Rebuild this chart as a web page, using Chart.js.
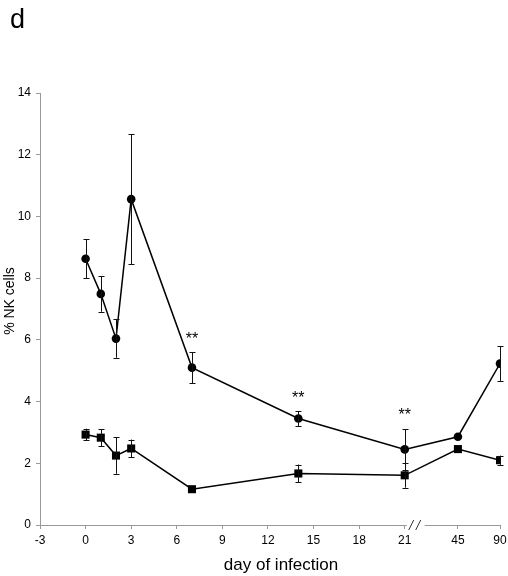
<!DOCTYPE html>
<html>
<head>
<meta charset="utf-8">
<script src="https://cdn.jsdelivr.net/npm/chart.js@4"></script>
<style>
  html, body { margin: 0; padding: 0; background: #fff; }
  #wrap { width: 508px; height: 576px; position: relative; }
</style>
</head>
<body>
<div id="wrap"><canvas id="c" width="508" height="576"></canvas></div>
<script>
// ---- data ----
const days = [0, 1, 2, 3, 7, 14, 21, 45, 90];
const groupCircle = [8.63, 7.49, 6.04, 10.56, 5.10, 3.45, 2.45, 2.86, 5.23];
const groupCircleErr = [0.63, 0.58, 0.62, 2.10, 0.50, 0.24, 0.66, 0, 0.56];
const groupSquare = [2.93, 2.83, 2.25, 2.48, 1.16, 1.67, 1.61, 2.46, 2.10];
const groupSquareErr = [0.19, 0.28, 0.59, 0.29, 0, 0.29, 0.40, 0, 0.15];
const starDays = [7, 14, 21];            // "**" marks on the circle series
const xTickDays = [-3, 0, 3, 6, 9, 12, 15, 18, 21, 45, 90];
const yTicks = [0, 2, 4, 6, 8, 10, 12, 14];
const xTitle = 'day of infection';
const yTitle = '% NK cells';
const panelLetter = 'd';

// broken axis: days after 21 are placed at compressed positions
const breakAfter = 21;
const brokenDays = [45, 90];
const brokenPos = [24.5, 27.27];
function axisPos(d) {
  const i = brokenDays.indexOf(d);
  return i >= 0 ? brokenPos[i] : d;
}
function axisLabel(v) {
  const i = brokenPos.findIndex(p => Math.abs(p - v) < 1e-6);
  return i >= 0 ? String(brokenDays[i]) : String(v);
}

const FONT = "'Liberation Sans', Arial, sans-serif";

function toPoints(vals, errs) {
  return days.map((d, i) => ({ x: axisPos(d), y: vals[i], err: errs[i] }));
}

const errorBars = {
  id: 'errorBars',
  afterDatasetsDraw(chart) {
    const ctx = chart.ctx;
    const xs = chart.scales.x, ys = chart.scales.y;
    ctx.save();
    ctx.strokeStyle = '#111';
    ctx.lineWidth = 1;
    chart.data.datasets.forEach(ds => {
      ds.data.forEach(p => {
        if (!p.err) return;
        const x = Math.round(xs.getPixelForValue(p.x)) + 0.5;
        const yt = ys.getPixelForValue(p.y + p.err);
        const yb = ys.getPixelForValue(p.y - p.err);
        ctx.beginPath();
        ctx.moveTo(x, yt); ctx.lineTo(x, yb);
        ctx.moveTo(x - 3, Math.round(yt) + 0.5); ctx.lineTo(x + 3, Math.round(yt) + 0.5);
        ctx.moveTo(x - 3, Math.round(yb) + 0.5); ctx.lineTo(x + 3, Math.round(yb) + 0.5);
        ctx.stroke();
      });
    });
    // significance stars
    ctx.fillStyle = '#000';
    ctx.font = '16px ' + FONT;
    ctx.textAlign = 'center';
    ctx.textBaseline = 'middle';
    starDays.forEach(d => {
      const i = days.indexOf(d);
      const x = xs.getPixelForValue(axisPos(d));
      const y = ys.getPixelForValue(groupCircle[i] + groupCircleErr[i]) - 13;
      ctx.fillText('**', x, y);
    });
    ctx.restore();
  },
  afterDraw(chart) {
    const ctx = chart.ctx;
    const xs = chart.scales.x;
    const y0 = chart.chartArea.bottom;
    const xb = xs.getPixelForValue(breakAfter);
    ctx.save();
    ctx.fillStyle = '#fff';
    ctx.fillRect(xb + 2, y0 - 3, 18, 6);
    ctx.strokeStyle = '#333';
    ctx.lineWidth = 1;
    ctx.beginPath();
    ctx.moveTo(xb + 4, y0 + 5); ctx.lineTo(xb + 9, y0 - 5);
    ctx.moveTo(xb + 11, y0 + 5); ctx.lineTo(xb + 16, y0 - 5);
    ctx.stroke();
    ctx.fillStyle = '#000';
    // panel letter
    ctx.font = '27px ' + FONT;
    ctx.textAlign = 'left';
    ctx.textBaseline = 'alphabetic';
    ctx.fillText(panelLetter, 10, 28);
    // axis titles
    ctx.font = '17px ' + FONT;
    ctx.textAlign = 'center';
    ctx.textBaseline = 'middle';
    ctx.fillText(xTitle, 281, 565);
    ctx.save();
    ctx.translate(10, 301);
    ctx.rotate(-Math.PI / 2);
    ctx.font = '14px ' + FONT;
    ctx.fillText(yTitle, 0, 0);
    ctx.restore();
    ctx.restore();
  }
};

new Chart(document.getElementById('c'), {
  type: 'line',
  data: {
    datasets: [
      {
        label: 'circle',
        data: toPoints(groupCircle, groupCircleErr),
        borderColor: '#000',
        backgroundColor: '#000',
        borderWidth: 1.5,
        pointStyle: 'circle',
        pointRadius: 4.3,
        pointBorderWidth: 0,
        tension: 0
      },
      {
        label: 'square',
        data: toPoints(groupSquare, groupSquareErr),
        borderColor: '#000',
        backgroundColor: '#000',
        borderWidth: 1.5,
        pointStyle: 'rect',
        pointRadius: 5.7,
        pointBorderWidth: 0,
        tension: 0
      }
    ]
  },
  options: {
    responsive: false,
    animation: false,
    layout: { padding: { top: 93, right: 8, left: 0, bottom: 0 } },
    plugins: { legend: { display: false }, tooltip: { enabled: false } },
    scales: {
      x: {
        type: 'linear',
        min: -3,
        max: brokenPos[brokenPos.length - 1],
        afterBuildTicks(scale) {
          scale.ticks = xTickDays.map(d => ({ value: axisPos(d) }));
        },
        afterFit(scale) {
          scale.height = 51;
          scale.paddingLeft = 0;
          scale.paddingRight = 0;
        },
        grid: { drawOnChartArea: false, color: '#999', tickLength: 4 },
        border: { color: '#999', width: 1 },
        ticks: {
          color: '#000',
          font: { family: FONT, size: 12 },
          padding: 4,
          maxRotation: 0,
          autoSkip: false,
          callback: v => axisLabel(v)
        }
      },
      y: {
        min: 0,
        max: 14,
        afterBuildTicks(scale) {
          scale.ticks = yTicks.map(v => ({ value: v }));
        },
        afterFit(scale) { scale.width = 40; },
        grid: { drawOnChartArea: false, color: '#999', tickLength: 4 },
        border: { color: '#999', width: 1 },
        ticks: {
          color: '#000',
          font: { family: FONT, size: 12 },
          padding: 5
        }
      }
    }
  },
  plugins: [errorBars]
});
</script>
</body>
</html>
